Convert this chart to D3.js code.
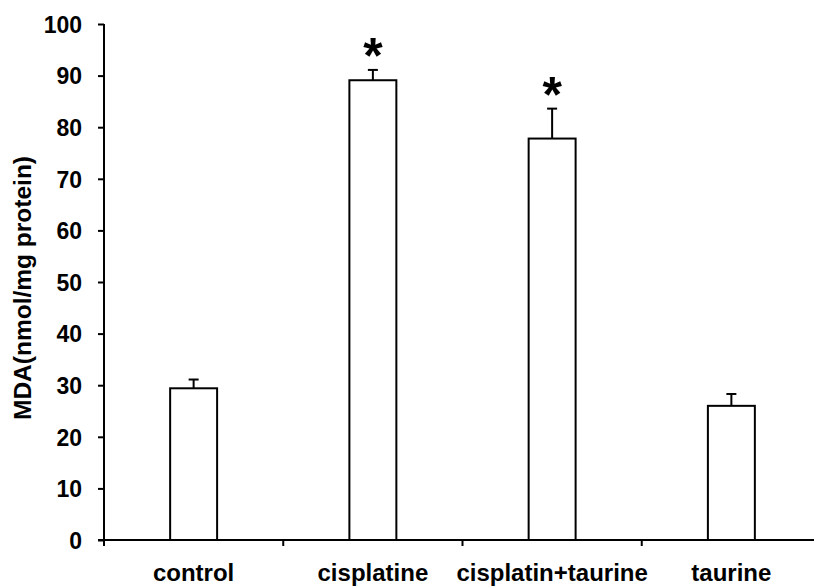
<!DOCTYPE html>
<html>
<head>
<meta charset="utf-8">
<script src="https://cdn.jsdelivr.net/npm/d3@7"></script>
<style>
  body { margin: 0; background: #fff; }
  text { font-family: "Liberation Sans", Arial, sans-serif; font-weight: bold; fill: #000; }
</style>
</head>
<body>
<svg id="chart" width="814" height="587"></svg>
<script>
// data
var groups = ["control", "cisplatine", "cisplatin+taurine", "taurine"];
var meanValues = [29.4, 89.1, 77.8, 26.0];
var errValues = [1.7, 2.0, 5.8, 2.3];
var starred = [false, true, true, false];
var yTicks = [0, 10, 20, 30, 40, 50, 60, 70, 80, 90, 100];

var svg = d3.select("#chart"),
  plotLeft = 104,
  plotRight = 821,
  plotTop = 24,
  plotBottom = 540;

var x = d3
  .scaleBand()
  .domain(groups)
  .range([plotLeft, plotRight])
  .paddingInner(0.738)
  .paddingOuter(0.369);

var y = d3.scaleLinear().domain([0, 100]).range([plotBottom, plotTop]);

var step = x.step(),
  bw = x.bandwidth();

// y axis
var yAxis = svg
  .append("g")
  .attr("transform", "translate(" + plotLeft + ",0)")
  .call(d3.axisLeft(y).tickValues(yTicks).tickSize(6).tickPadding(16));
yAxis.select(".domain").attr("stroke", "#000").attr("stroke-width", 2).attr("d", "M0," + plotTop + "V" + plotBottom);
yAxis.selectAll(".tick line").attr("stroke", "#000").attr("stroke-width", 2);
yAxis
  .selectAll(".tick text")
  .style("font-size", "23px")
  .attr("dy", "0.36em");

// x axis line + ticks at group boundaries
svg
  .append("line")
  .attr("x1", plotLeft - 6)
  .attr("x2", 814)
  .attr("y1", plotBottom)
  .attr("y2", plotBottom)
  .attr("stroke", "#000")
  .attr("stroke-width", 2);

svg
  .selectAll(".xtick")
  .data(groups)
  .enter()
  .append("line")
  .attr("class", "xtick")
  .attr("x1", (d) => x(d) + bw / 2 - step / 2)
  .attr("x2", (d) => x(d) + bw / 2 - step / 2)
  .attr("y1", plotBottom)
  .attr("y2", plotBottom + 6)
  .attr("stroke", "#000")
  .attr("stroke-width", 2);

svg
  .selectAll(".xlabel")
  .data(groups)
  .enter()
  .append("text")
  .attr("class", "xlabel")
  .attr("x", (d) => x(d) + bw / 2)
  .attr("y", 581)
  .attr("text-anchor", "middle")
  .style("font-size", "24px")
  .text((d) => d);

// bars
svg
  .selectAll(".bar")
  .data(groups)
  .enter()
  .append("rect")
  .attr("class", "bar")
  .attr("x", (d) => x(d))
  .attr("width", bw)
  .attr("y", (d, i) => y(meanValues[i]))
  .attr("height", (d, i) => plotBottom - y(meanValues[i]))
  .attr("fill", "#fff")
  .attr("stroke", "#000")
  .attr("stroke-width", 2);

// error bars (upper only)
var err = svg.selectAll(".err").data(groups).enter().append("g").attr("class", "err");
err
  .append("line")
  .attr("x1", (d) => x(d) + bw / 2)
  .attr("x2", (d) => x(d) + bw / 2)
  .attr("y1", (d, i) => y(meanValues[i]))
  .attr("y2", (d, i) => y(meanValues[i] + errValues[i]))
  .attr("stroke", "#000")
  .attr("stroke-width", 2);
err
  .append("line")
  .attr("x1", (d) => x(d) + bw / 2 - 5)
  .attr("x2", (d) => x(d) + bw / 2 + 5)
  .attr("y1", (d, i) => y(meanValues[i] + errValues[i]))
  .attr("y2", (d, i) => y(meanValues[i] + errValues[i]))
  .attr("stroke", "#000")
  .attr("stroke-width", 2);

// significance stars
svg
  .selectAll(".star")
  .data(groups.filter((d, i) => starred[i]))
  .enter()
  .append("text")
  .attr("class", "star")
  .attr("x", (d) => x(d) + bw / 2)
  .attr("y", (d) => y(meanValues[groups.indexOf(d)] + errValues[groups.indexOf(d)]) + 3)
  .attr("text-anchor", "middle")
  .style("font-size", "50px")
  .text("*");

// y title
svg
  .append("text")
  .attr("transform", "translate(31,288) rotate(-90)")
  .attr("text-anchor", "middle")
  .style("font-size", "24.5px")
  .text("MDA(nmol/mg protein)");
</script>
</body>
</html>
